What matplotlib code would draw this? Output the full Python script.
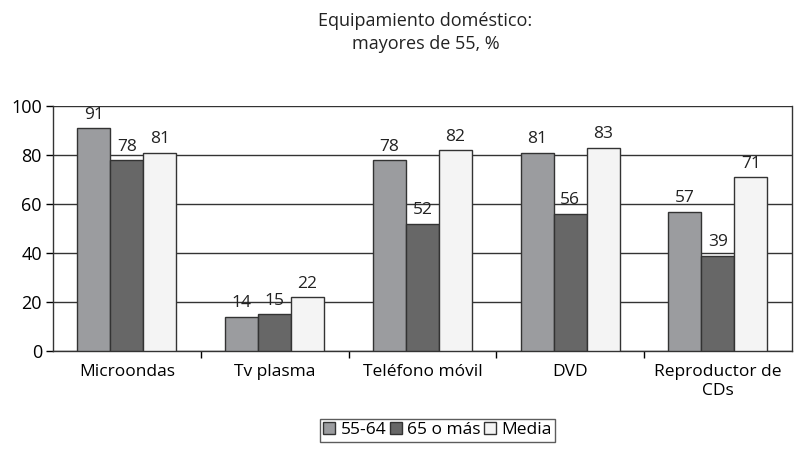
import numpy as np
import matplotlib.pyplot as plt

plt.rcParams['font.family'] = ['Open Sans', 'DejaVu Sans']

categorias = ['Microondas', 'Tv plasma', 'Teléfono móvil', 'DVD', 'Reproductor de\nCDs']
series = ['55-64', '65 o más', 'Media']
v_55_64 = [91, 14, 78, 81, 57]
v_65_mas = [78, 15, 52, 56, 39]
v_media = [81, 22, 82, 83, 71]
colores = ['#9b9c9f', '#676767', '#f4f4f4']

fig = plt.figure(figsize=(8.03, 4.70), dpi=100)
ax = fig.add_axes([0.066, 0.253, 0.92, 0.521])

x = np.arange(len(categorias))
w = 0.223
for i, (vals, col, lab) in enumerate(zip([v_55_64, v_65_mas, v_media], colores, series)):
    bars = ax.bar(x + (i - 1) * w, vals, w, color=col, edgecolor='#333333',
                  linewidth=1.0, label=lab, zorder=3)
    for b, v in zip(bars, vals):
        ax.annotate(str(v), (b.get_x() + b.get_width() / 2, v), xytext=(0, 4),
                    textcoords='offset points', ha='center', va='bottom',
                    fontsize=12.5, color='#222222', zorder=4)

ax.set_xlim(-0.5, len(categorias) - 0.5)
ax.set_ylim(0, 100)
ax.set_yticks([0, 20, 40, 60, 80, 100])
ax.yaxis.grid(True, color='#333333', linewidth=1.0, zorder=0)
ax.set_axisbelow(True)

ax.set_xticks(x)
ax.set_xticklabels(categorias, fontsize=12.5, linespacing=1.3)
ax.tick_params(axis='x', length=0, pad=9)
ax.set_xticks(np.arange(0.5, len(categorias) - 0.5, 1), minor=True)
ax.tick_params(axis='x', which='minor', length=5, direction='out', width=1.0)
ax.tick_params(axis='y', labelsize=13, length=5, width=1.0, direction='out', pad=3)

ax.spines['top'].set_visible(False)
for s in ['left', 'right', 'bottom']:
    ax.spines[s].set_color('#333333')
    ax.spines[s].set_linewidth(1.0)

fig.text(0.53, 0.931, 'Equipamiento doméstico:\nmayores de 55, %', ha='center',
         va='center', fontsize=13, linespacing=1.35, color='#222222')

leg = ax.legend(loc='center', bbox_to_anchor=(0.545, 0.085), bbox_transform=fig.transFigure,
                ncol=3, fontsize=12.5, frameon=True, fancybox=False, handlelength=0.7,
                handleheight=0.7, handletextpad=0.3, columnspacing=0.2,
                borderpad=0.2, borderaxespad=0)
leg.get_frame().set_edgecolor('#333333')
leg.get_frame().set_linewidth(1.0)

fig.savefig('out.png', dpi=100)
